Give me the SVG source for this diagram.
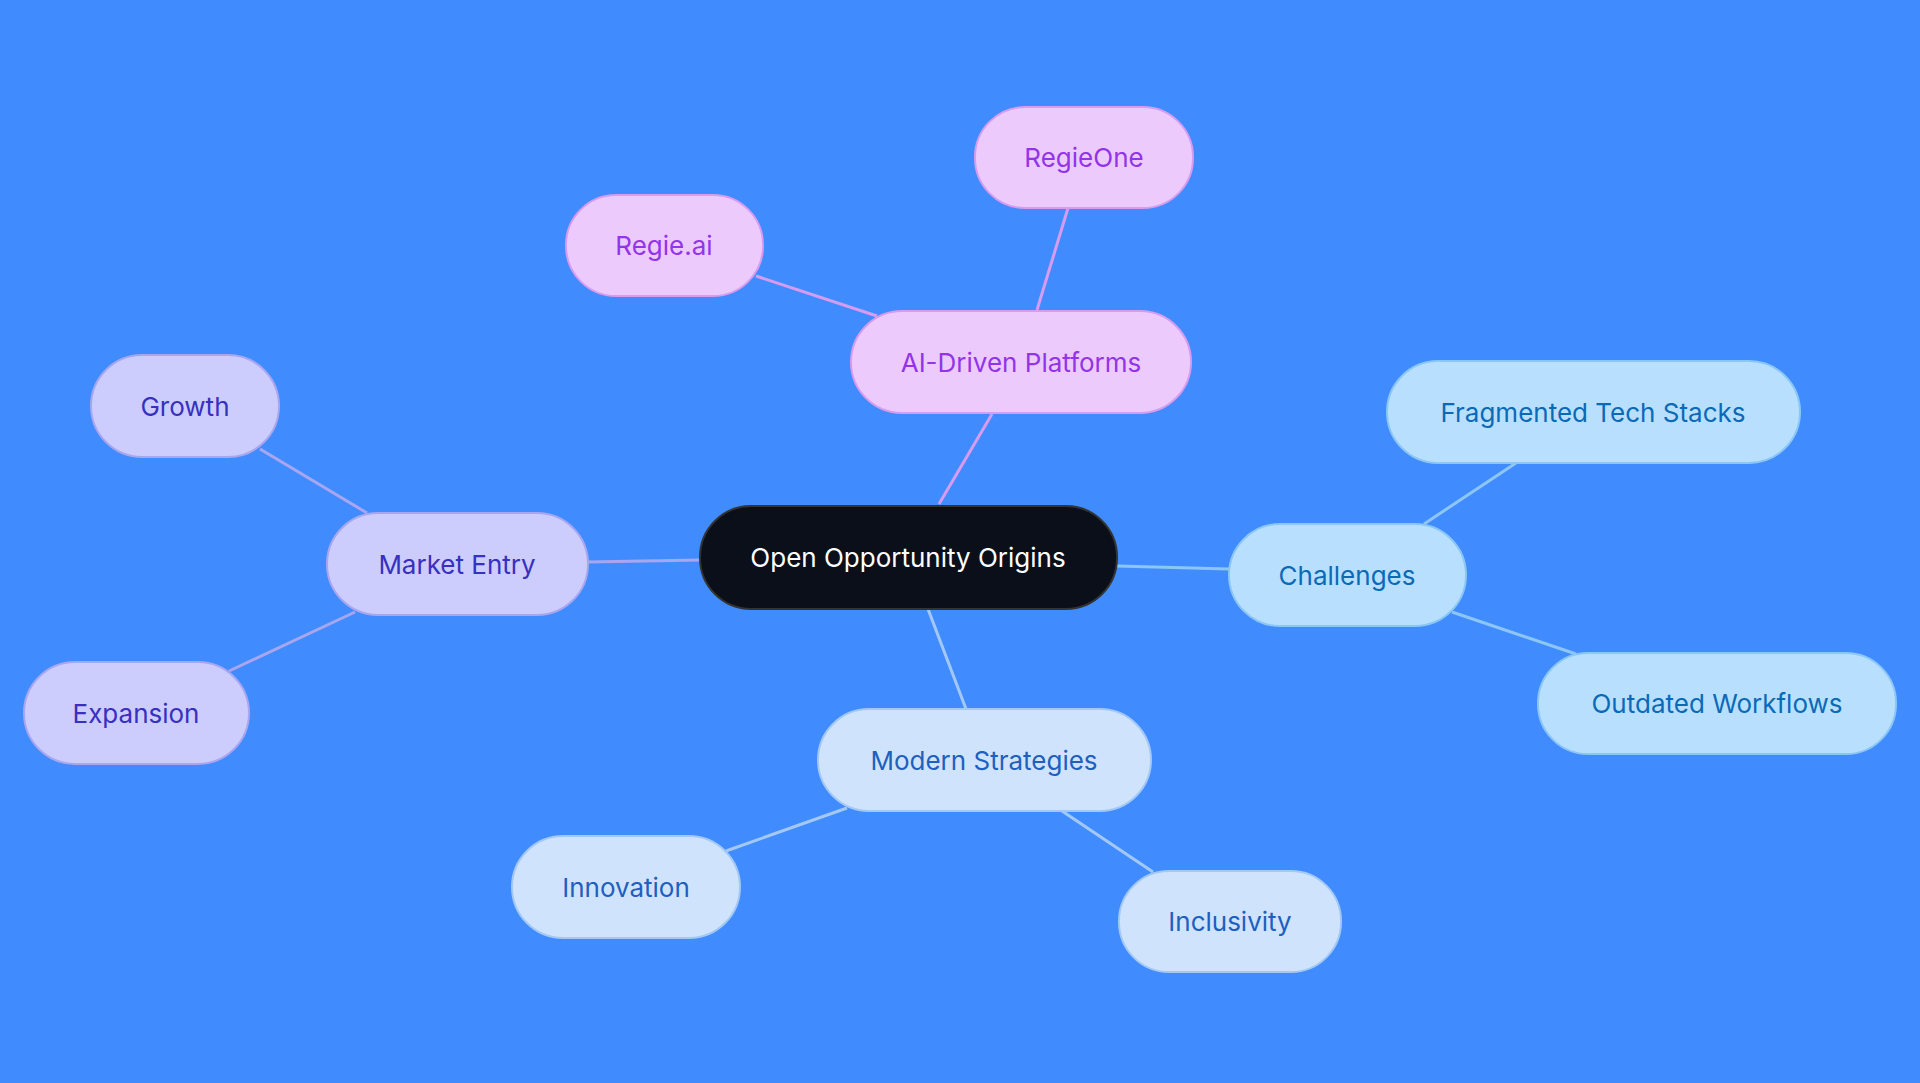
<svg xmlns="http://www.w3.org/2000/svg" width="1920" height="1083" viewBox="0 0 1920 1083">
<style>
text{font-family:Inter,"Noto Sans",sans-serif;font-size:26px;text-anchor:middle;dominant-baseline:central}
.e{stroke-width:3;fill:none}
.ai rect{fill:#eccbfc;stroke:#d79bf0;stroke-width:2}.ai text{fill:#9333ea}
.me rect{fill:#cccdfc;stroke:#a9a6f0;stroke-width:2}.me text{fill:#3730c0}
.ch rect{fill:#b8e0fe;stroke:#8cc6f5;stroke-width:2}.ch text{fill:#0a6ab8}
.ms rect{fill:#cfe4fc;stroke:#a4c8f5;stroke-width:2}.ms text{fill:#1e5fc0}
</style>
<rect width="1920" height="1083" fill="#408cff"/>
<g id="connectors">
<path class="e" stroke="#d79bf0" d="M939 504L992 414M1037 310L1068 208M877 316L756 276"/>
<path class="e" stroke="#a9a6f0" d="M700 560L588 562M367 513L260 449M355 612L229 671"/>
<path class="e" stroke="#8cc6f5" d="M1117 566L1229 569M1424 524L1516 463M1452 612L1576 654"/>
<path class="e" stroke="#a4c8f5" d="M928 609L966 709M847 808L726 851M1062 811L1153 872"/>
</g>
<g id="center"><rect x="700" y="506" width="417" height="103" rx="51" fill="#0b0f19" stroke="#333" stroke-width="2"/><text x="908" y="557" fill="#fff">Open Opportunity Origins</text></g>
<g id="ai" class="ai"><rect x="851" y="311" width="340" height="102" rx="51"/><text x="1021" y="362">AI-Driven Platforms</text></g>
<g id="regieone" class="ai"><rect x="975" y="107" width="218" height="101" rx="50"/><text x="1084" y="157">RegieOne</text></g>
<g id="regieai" class="ai"><rect x="566" y="195" width="197" height="101" rx="50"/><text x="664" y="245">Regie.ai</text></g>
<g id="market" class="me"><rect x="327" y="513" width="261" height="102" rx="51"/><text x="457" y="564">Market Entry</text></g>
<g id="growth" class="me"><rect x="91" y="355" width="188" height="102" rx="51"/><text x="185" y="406">Growth</text></g>
<g id="expansion" class="me"><rect x="24" y="662" width="225" height="102" rx="51"/><text x="136" y="713">Expansion</text></g>
<g id="challenges" class="ch"><rect x="1229" y="524" width="237" height="102" rx="51"/><text x="1347" y="575">Challenges</text></g>
<g id="frag" class="ch"><rect x="1387" y="361" width="413" height="102" rx="51"/><text x="1593" y="412">Fragmented Tech Stacks</text></g>
<g id="outdated" class="ch"><rect x="1538" y="653" width="358" height="101" rx="50"/><text x="1717" y="703">Outdated Workflows</text></g>
<g id="modern" class="ms"><rect x="818" y="709" width="333" height="102" rx="51"/><text x="984" y="760">Modern Strategies</text></g>
<g id="innovation" class="ms"><rect x="512" y="836" width="228" height="102" rx="51"/><text x="626" y="887">Innovation</text></g>
<g id="inclusivity" class="ms"><rect x="1119" y="871" width="222" height="101" rx="50"/><text x="1230" y="921">Inclusivity</text></g>
</svg>
